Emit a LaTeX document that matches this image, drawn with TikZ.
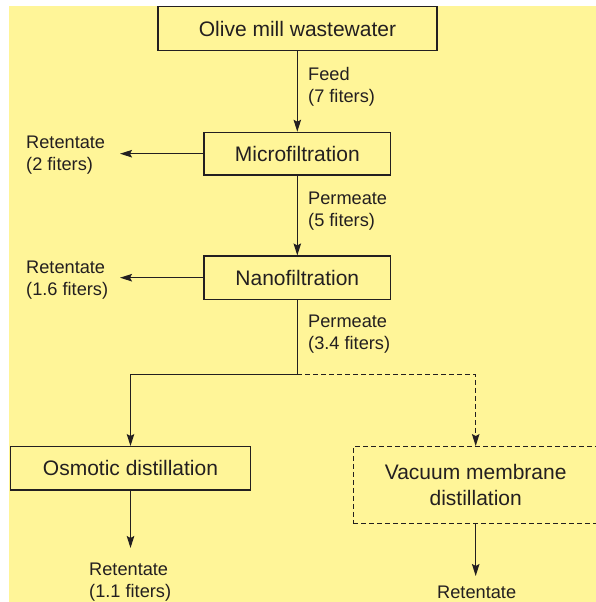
\documentclass[tikz,border=0pt]{standalone}
\usepackage{fontspec}
\setmainfont{Liberation Sans}
\usetikzlibrary{arrows.meta}
\definecolor{panel}{RGB}{255,245,152}
\definecolor{ink}{RGB}{35,31,32}
\begin{document}
\begin{tikzpicture}[x=1pt,y=-1pt,
  box/.style={draw=ink, line width=1.2pt, inner sep=0pt, text=ink,
    font=\fontsize{21}{26}\selectfont, align=center},
  tag/.style={anchor=base west, inner sep=0pt, text=ink,
    font=\fontsize{18.2}{22}\selectfont},
  lbl/.style={tag, align=left},
  flow/.style={draw=ink, line width=1.2pt,
    -{Stealth[length=12pt,width=7.5pt,inset=2pt]}},
  optional/.style={dash pattern=on 5pt off 3pt}]

  % page frame and panel
  \useasboundingbox (0,0) rectangle (596,602);
  \clip (0,0) rectangle (596,602);
  \fill[panel] (9,6) rectangle (596,602);

  % process stages
  \node[box, minimum width=279pt, minimum height=44pt] (omw) at (297.5,28.7) {Olive mill wastewater};
  \node[box, minimum width=186.7pt, minimum height=42.7pt] (mf) at (297.3,153.7) {Microfiltration};
  \node[box, minimum width=186.7pt, minimum height=43.3pt] (nf) at (297.3,277.7) {Nanofiltration};
  \node[box, minimum width=240.7pt, minimum height=43.3pt] (od) at (130.5,468.3) {Osmotic distillation};
  \node[box, optional, minimum width=245pt, minimum height=76.7pt] (vmd) at (475.7,485) {Vacuum membrane\\distillation};

  % free ends of the outlet arrows
  \coordinate (ret1) at (120,153.7);
  \coordinate (ret2) at (120,277.7);
  \coordinate (split) at (297.3,374.3);
  \coordinate (odout) at (130.5,548);
  \coordinate (vmdout) at (475.7,576);

  % connectors
  \draw[flow] (omw.south -| mf.north) -- (mf.north);
  \draw[flow] (mf.west) -- (ret1);
  \draw[flow] (mf.south) -- (nf.north);
  \draw[flow] (nf.west) -- (ret2);
  \draw[draw=ink, line width=1.2pt] (nf.south) -- (split);
  \draw[flow] (split) -| (od.north);
  \draw[flow, optional] (split) -| (vmd.north);
  \draw[flow] (od.south) -- (odout);
  \draw[flow] (vmd.south) -- (vmdout);

  % stream labels (anchored on the baseline of their last line)
  \node[lbl] (feed) at (308,102) {Feed\\(7 fiters)};
  \node[lbl] (perm1) at (308,226) {Permeate\\(5 fiters)};
  \node[lbl] (perm2) at (308,349) {Permeate\\(3.4 fiters)};
  \node[lbl] (r1) at (26,170) {Retentate\\(2 fiters)};
  \node[lbl] (r2) at (26,295) {Retentate\\(1.6 fiters)};
  \node[lbl] (r3) at (89,597) {Retentate\\(1.1 fiters)};
  \node[tag] (r4) at (437,598.5) {Retentate};
\end{tikzpicture}
\end{document}
